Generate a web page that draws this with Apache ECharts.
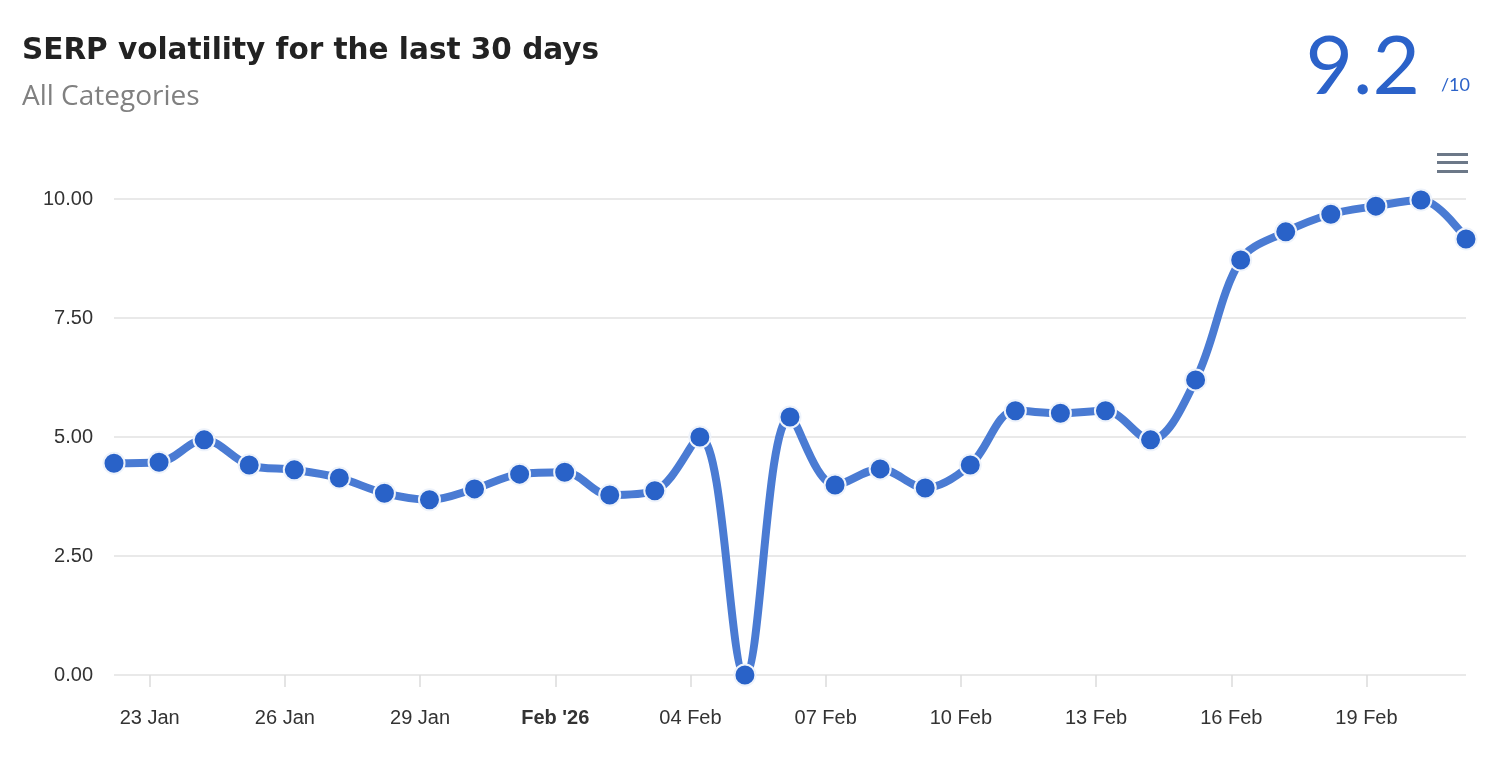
<!DOCTYPE html>
<html>
<head>
<meta charset="utf-8">
<script src="https://cdn.jsdelivr.net/npm/echarts@6/dist/echarts.min.js"></script>
<style>
html,body{margin:0;padding:0;background:#fff;}
#chart{width:1502px;height:760px;}
</style>
</head>
<body>
<div id="chart"></div>
<script>
// Sample times (UTC) of each volatility reading
const sampleDates = [
  '2026-01-22T05:00','2026-01-23T05:00','2026-01-24T05:00','2026-01-25T05:00','2026-01-26T05:00',
  '2026-01-27T05:00','2026-01-28T05:00','2026-01-29T05:00','2026-01-30T05:00','2026-01-31T05:00',
  '2026-02-01T05:00','2026-02-02T05:00','2026-02-03T05:00','2026-02-04T05:00','2026-02-05T05:00',
  '2026-02-06T05:00','2026-02-07T05:00','2026-02-08T05:00','2026-02-09T05:00','2026-02-10T05:00',
  '2026-02-11T05:00','2026-02-12T05:00','2026-02-13T05:00','2026-02-14T05:00','2026-02-15T05:00',
  '2026-02-16T05:00','2026-02-17T05:00','2026-02-18T05:00','2026-02-19T05:00','2026-02-20T05:00',
  '2026-02-21T05:00'
];
const volatility = [
  4.45, 4.47, 4.94, 4.41, 4.31,
  4.14, 3.82, 3.68, 3.91, 4.22,
  4.26, 3.78, 3.87, 5.00, 0.00,
  5.42, 3.99, 4.33, 3.93, 4.41,
  5.55, 5.50, 5.55, 4.94, 6.20,
  8.72, 9.31, 9.68, 9.85, 9.98,
  9.16
];
const tickDates = ['2026-01-23','2026-01-26','2026-01-29','2026-02-01','2026-02-04',
  '2026-02-07','2026-02-10','2026-02-13','2026-02-16','2026-02-19'];
const tickLabels = ['23 Jan','26 Jan','29 Jan',"Feb '26",'04 Feb','07 Feb','10 Feb','13 Feb','16 Feb','19 Feb'];
const boldTicks = ["Feb '26"];
const titleText = 'SERP volatility for the last 30 days';
const subtitleText = 'All Categories';
const scoreText = '9.2';
const scoreMaxText = '/10';

function toUTC(s){
  const p = s.split(/[-T:]/).map(Number);
  return Date.UTC(p[0], p[1]-1, p[2], p[3]||0, p[4]||0);
}
const xs = sampleDates.map(toUTC);
const tickVals = tickDates.map(toUTC);
const seriesData = xs.map((x,i)=>[x, volatility[i]]);

const AX_FONT = '"Liberation Sans", Arial, sans-serif';
const chart = echarts.init(document.getElementById('chart'), null, {renderer:'canvas'});
const option = {
  animation:false,
  backgroundColor:'#ffffff',
  grid:{left:114, right:36, top:199, bottom:85, containLabel:false},
  title:[
    {text:titleText, left:17, top:31, textStyle:{fontFamily:'"DejaVu Sans"', fontWeight:'bold', fontSize:29.5, color:'#222222'}},
    {text:subtitleText, left:17, top:78, textStyle:{fontFamily:'"Open Sans"', fontWeight:'normal', fontSize:28, color:'#808080'}}
  ],
  graphic:[
    {type:'text', right:82, top:27, style:{text:scoreText, font:'normal 82px Lato', fill:'#2b62c9'}},
    {type:'text', right:32, top:76, style:{text:scoreMaxText, font:'normal 18px Lato', fill:'#2b62c9'}},
    {type:'group', left:1437, top:153, children:[
      {type:'rect', shape:{x:0,y:0,width:31,height:3}, style:{fill:'#6c7888'}},
      {type:'rect', shape:{x:0,y:8,width:31,height:3}, style:{fill:'#6c7888'}},
      {type:'rect', shape:{x:0,y:17,width:31,height:3}, style:{fill:'#6c7888'}}
    ]}
  ],
  xAxis:{
    type:'value',
    min:xs[0], max:xs[xs.length-1],
    axisLine:{show:false},
    splitLine:{show:false},
    axisTick:{show:true, customValues:tickVals, length:12, lineStyle:{color:'#dcdcdc', width:1.5}},
    axisLabel:{
      customValues:tickVals,
      margin:33,
      fontFamily:AX_FONT,
      fontSize:20,
      color:'#333333',
      formatter:function(v){
        const i = tickVals.indexOf(v);
        const t = i>=0 ? tickLabels[i] : '';
        return boldTicks.indexOf(t)>=0 ? '{b|'+t+'}' : t;
      },
      rich:{b:{fontWeight:'bold', fontFamily:AX_FONT, fontSize:20, color:'#333333'}}
    }
  },
  yAxis:{
    type:'value',
    min:0, max:10, interval:2.5,
    axisLine:{show:false},
    axisTick:{show:false},
    splitLine:{lineStyle:{color:'#e2e2e2', width:1.5}},
    axisLabel:{
      margin:21,
      fontFamily:AX_FONT,
      fontSize:20,
      color:'#333333',
      formatter:function(v){return v.toFixed(2);}
    }
  },
  series:[{
    type:'line',
    data:seriesData,
    smooth:0.35,
    clip:false,
    symbol:'circle',
    symbolSize:21,
    lineStyle:{color:'#4a7bd3', width:8},
    itemStyle:{color:'#2962c8', borderColor:'#eef3fb', borderWidth:2},
    emphasis:{disabled:true},
    z:3
  }]
};
chart.setOption(option);
</script>
</body>
</html>
